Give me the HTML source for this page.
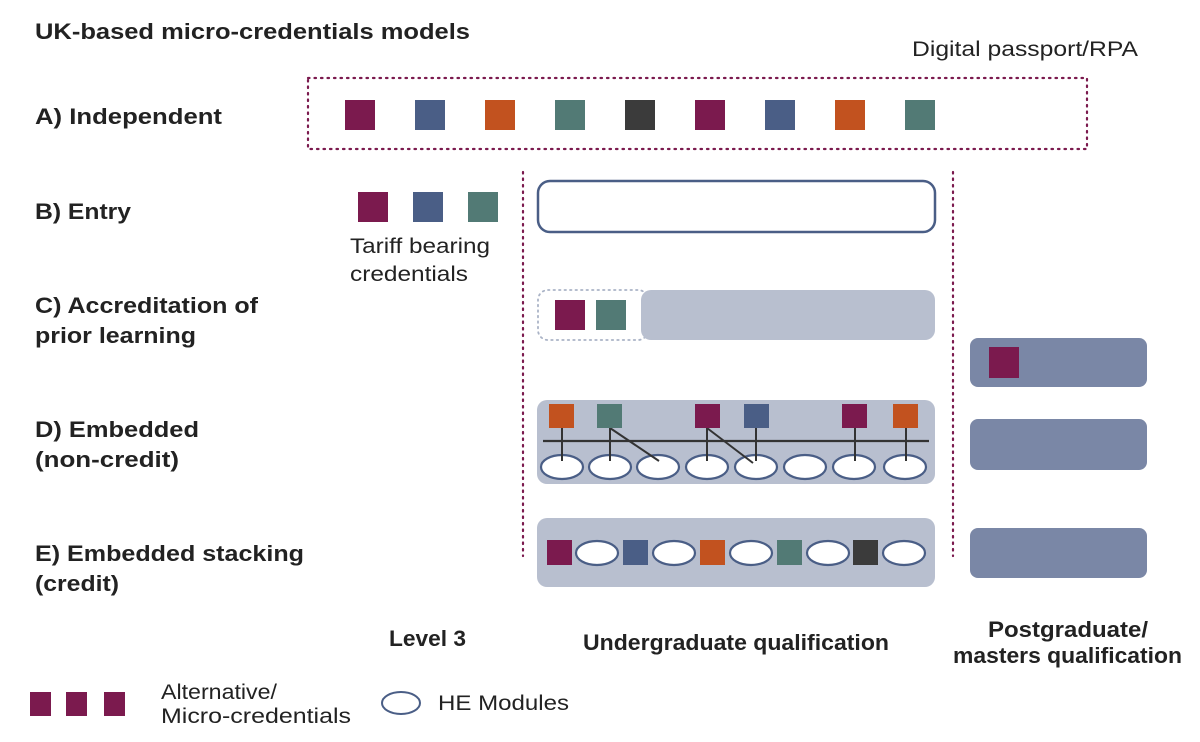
<!DOCTYPE html>
<html><head><meta charset="utf-8"><style>
html,body{margin:0;padding:0;background:#fff;width:1200px;height:742px;overflow:hidden}
svg text{font-family:"Liberation Sans",sans-serif;fill:#222}
.b{font-weight:bold;font-size:22px}
.r{font-size:21px}
</style></head><body>
<svg width="1200" height="742" xmlns="http://www.w3.org/2000/svg">
<g fill="none" stroke="#7b1a4e" stroke-width="2.2" stroke-dasharray="1.5 5" stroke-linecap="round">
<rect x="308" y="78" width="779" height="71"/>
<line x1="523" y1="172" x2="523" y2="556"/>
<line x1="953" y1="172" x2="953" y2="556"/>
</g>
<text class="b" x="35" y="39" textLength="435" lengthAdjust="spacingAndGlyphs">UK-based micro-credentials models</text>
<text class="r" x="912" y="56" textLength="226" lengthAdjust="spacingAndGlyphs">Digital passport/RPA</text>
<text class="b" x="35" y="124" textLength="187" lengthAdjust="spacingAndGlyphs">A) Independent</text>
<text class="b" x="35" y="219" textLength="96" lengthAdjust="spacingAndGlyphs">B) Entry</text>
<text class="b" x="35" y="313" textLength="223" lengthAdjust="spacingAndGlyphs">C) Accreditation of</text>
<text class="b" x="35" y="343" textLength="161" lengthAdjust="spacingAndGlyphs">prior learning</text>
<text class="b" x="35" y="437" textLength="164" lengthAdjust="spacingAndGlyphs">D) Embedded</text>
<text class="b" x="35" y="467" textLength="144" lengthAdjust="spacingAndGlyphs">(non-credit)</text>
<text class="b" x="35" y="561" textLength="269" lengthAdjust="spacingAndGlyphs">E) Embedded stacking</text>
<text class="b" x="35" y="591" textLength="84" lengthAdjust="spacingAndGlyphs">(credit)</text>
<text class="b" x="389" y="646" textLength="77" lengthAdjust="spacingAndGlyphs">Level 3</text>
<text class="b" x="583" y="650" textLength="306" lengthAdjust="spacingAndGlyphs">Undergraduate qualification</text>
<text class="b" x="988" y="637" textLength="160" lengthAdjust="spacingAndGlyphs">Postgraduate/</text>
<text class="b" x="953" y="663" textLength="229" lengthAdjust="spacingAndGlyphs">masters qualification</text>
<rect x="345" y="100" width="30" height="30" fill="#7b1a4e"/>
<rect x="415" y="100" width="30" height="30" fill="#4a5e86"/>
<rect x="485" y="100" width="30" height="30" fill="#c2521f"/>
<rect x="555" y="100" width="30" height="30" fill="#527a75"/>
<rect x="625" y="100" width="30" height="30" fill="#3b3b3b"/>
<rect x="695" y="100" width="30" height="30" fill="#7b1a4e"/>
<rect x="765" y="100" width="30" height="30" fill="#4a5e86"/>
<rect x="835" y="100" width="30" height="30" fill="#c2521f"/>
<rect x="905" y="100" width="30" height="30" fill="#527a75"/>
<rect x="358" y="192" width="30" height="30" fill="#7b1a4e"/>
<rect x="413" y="192" width="30" height="30" fill="#4a5e86"/>
<rect x="468" y="192" width="30" height="30" fill="#527a75"/>
<text class="r" x="350" y="253" textLength="140" lengthAdjust="spacingAndGlyphs">Tariff bearing</text>
<text class="r" x="350" y="281" textLength="118" lengthAdjust="spacingAndGlyphs">credentials</text>
<rect x="538" y="181" width="397" height="51" rx="12" fill="#fff" stroke="#4a5e86" stroke-width="2.5"/>
<rect x="538" y="290" width="110" height="50" rx="10" fill="none" stroke="#aab3c6" stroke-width="1.8" stroke-dasharray="1.5 4" stroke-linecap="round"/>
<rect x="641" y="290" width="294" height="50" rx="10" fill="#b8bfcf"/>
<rect x="555" y="300" width="30" height="30" fill="#7b1a4e"/>
<rect x="596" y="300" width="30" height="30" fill="#527a75"/>
<rect x="970" y="338" width="177" height="49" rx="8" fill="#7a87a6"/>
<rect x="989" y="347" width="30" height="31" fill="#7b1a4e"/>
<rect x="970" y="419" width="177" height="51" rx="8" fill="#7a87a6"/>
<rect x="970" y="528" width="177" height="50" rx="8" fill="#7a87a6"/>
<rect x="537" y="400" width="398" height="84" rx="10" fill="#b8bfcf"/>
<g fill="#fff" stroke="#4a5e86" stroke-width="2.2">
<ellipse cx="562" cy="467" rx="21" ry="12"/><ellipse cx="610" cy="467" rx="21" ry="12"/>
<ellipse cx="658" cy="467" rx="21" ry="12"/><ellipse cx="707" cy="467" rx="21" ry="12"/>
<ellipse cx="756" cy="467" rx="21" ry="12"/><ellipse cx="805" cy="467" rx="21" ry="12"/>
<ellipse cx="854" cy="467" rx="21" ry="12"/><ellipse cx="905" cy="467" rx="21" ry="12"/>
</g>
<line x1="543" y1="441" x2="929" y2="441" stroke="#333" stroke-width="2.2"/>
<g stroke="#333" stroke-width="2">
<line x1="562" y1="428" x2="562" y2="461"/><line x1="610" y1="428" x2="610" y2="461"/>
<line x1="707" y1="428" x2="707" y2="461"/><line x1="756" y1="428" x2="756" y2="461"/>
<line x1="855" y1="428" x2="855" y2="461"/><line x1="906" y1="428" x2="906" y2="461"/>
<line x1="610" y1="428" x2="659" y2="461"/><line x1="707" y1="428" x2="753" y2="463"/>
</g>
<rect x="549" y="404" width="25" height="24" fill="#c2521f"/>
<rect x="597" y="404" width="25" height="24" fill="#527a75"/>
<rect x="695" y="404" width="25" height="24" fill="#7b1a4e"/>
<rect x="744" y="404" width="25" height="24" fill="#4a5e86"/>
<rect x="842" y="404" width="25" height="24" fill="#7b1a4e"/>
<rect x="893" y="404" width="25" height="24" fill="#c2521f"/>
<rect x="537" y="518" width="398" height="69" rx="10" fill="#b8bfcf"/>
<rect x="547" y="540" width="25" height="25" fill="#7b1a4e"/>
<rect x="623" y="540" width="25" height="25" fill="#4a5e86"/>
<rect x="700" y="540" width="25" height="25" fill="#c2521f"/>
<rect x="777" y="540" width="25" height="25" fill="#527a75"/>
<rect x="853" y="540" width="25" height="25" fill="#3b3b3b"/>
<g fill="#fff" stroke="#4a5e86" stroke-width="2.2">
<ellipse cx="597" cy="553" rx="21" ry="12"/><ellipse cx="674" cy="553" rx="21" ry="12"/>
<ellipse cx="751" cy="553" rx="21" ry="12"/><ellipse cx="828" cy="553" rx="21" ry="12"/>
<ellipse cx="904" cy="553" rx="21" ry="12"/>
</g>
<rect x="30" y="692" width="21" height="24" fill="#7b1a4e"/>
<rect x="66" y="692" width="21" height="24" fill="#7b1a4e"/>
<rect x="104" y="692" width="21" height="24" fill="#7b1a4e"/>
<text class="r" x="161" y="699" textLength="116" lengthAdjust="spacingAndGlyphs">Alternative/</text>
<text class="r" x="161" y="723" textLength="190" lengthAdjust="spacingAndGlyphs">Micro-credentials</text>
<ellipse cx="401" cy="703" rx="19" ry="11" fill="#fff" stroke="#4a5e86" stroke-width="2"/>
<text class="r" x="438" y="710" textLength="131" lengthAdjust="spacingAndGlyphs">HE Modules</text>
</svg>
</body></html>
